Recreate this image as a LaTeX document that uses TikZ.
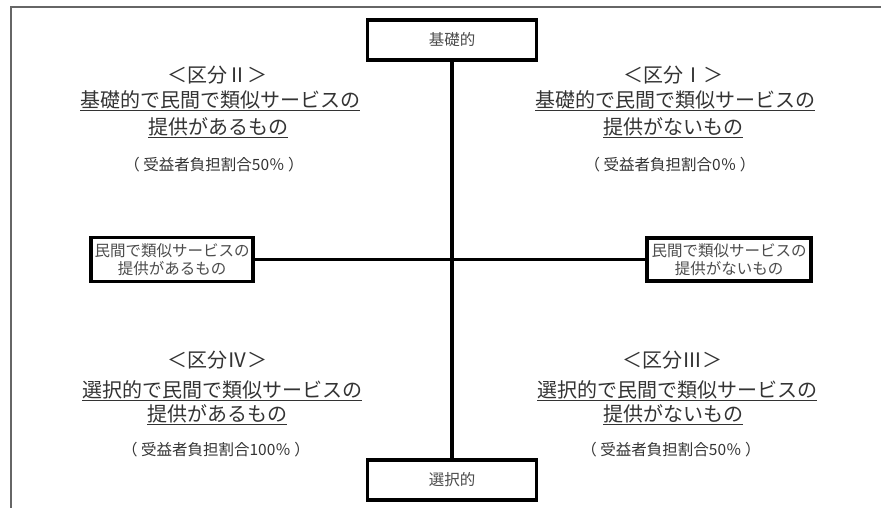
\documentclass[tikz,border=0pt]{standalone}
\usepackage{fontspec}
\setmainfont{Noto Sans CJK JP}
\newcommand\myul[1]{\setbox0\hbox{#1}\rlap{\rule[-3pt]{\wd0}{1pt}}\box0}
\begin{document}
\begin{tikzpicture}[x=1pt,y=-1pt,
  box/.style={draw=black,line width=3.6pt,fill=white,inner sep=0pt,align=center,
    font=\fontsize{15.5}{18}\selectfont,text=black!70},
  conn/.style={line width=3.4pt,draw=black},
  head/.style={anchor=base,inner sep=0pt,font=\fontsize{20}{24}\selectfont,text=black!80},
  pct/.style={anchor=base,inner sep=0pt,font=\fontsize{15.5}{18}\selectfont,text=black!80}]
\useasboundingbox (0,0) rectangle (881,508);
\draw[black!60,line width=1.5pt] (11,508) -- (11,7) -- (881,7);
% axis boxes
\node[box,minimum width=169pt,minimum height=40pt] (kiso) at (452,40) {基礎的};
\node[box,minimum width=169pt,minimum height=40pt] (sentaku) at (452,480) {選択的};
\node[box,minimum width=162pt,minimum height=44pt] (aru) at (172,259.5) {民間で類似サービスの\\提供があるもの};
\node[box,minimum width=164pt,minimum height=43pt] (nai) at (729,259.5) {民間で類似サービスの\\提供がないもの};
\draw[conn] (kiso) -- (sentaku);
\draw[conn] (aru) -- (nai);
% quadrant II
\node[head] (h2) at (217,82.6) {＜区分Ⅱ＞};
\node[head] (a2) at (220,107.6) {\myul{基礎的で民間で類似サービスの}};
\node[head] (b2) at (218,134.6) {\myul{提供があるもの}};
\node[pct] (p2) at (214,170.9) {（ 受益者負担割合50％ ）};
% quadrant I
\node[head] (h1) at (673,82.6) {＜区分Ⅰ＞};
\node[head] (a1) at (675,107.6) {\myul{基礎的で民間で類似サービスの}};
\node[head] (b1) at (673,134.6) {\myul{提供がないもの}};
\node[pct] (p1) at (670,170.9) {（ 受益者負担割合0％ ）};
% quadrant IV
\node[head] (h4) at (217,367.6) {＜区分Ⅳ＞};
\node[head] (a4) at (222,397.6) {\myul{選択的で民間で類似サービスの}};
\node[head] (b4) at (217,421.6) {\myul{提供があるもの}};
\node[pct] (p4) at (216,455.9) {（ 受益者負担割合100％ ）};
% quadrant III
\node[head] (h3) at (672,367.6) {＜区分Ⅲ＞};
\node[head] (a3) at (677,397.6) {\myul{選択的で民間で類似サービスの}};
\node[head] (b3) at (673,421.6) {\myul{提供がないもの}};
\node[pct] (p3) at (671,455.9) {（ 受益者負担割合50％ ）};
\end{tikzpicture}
\end{document}
